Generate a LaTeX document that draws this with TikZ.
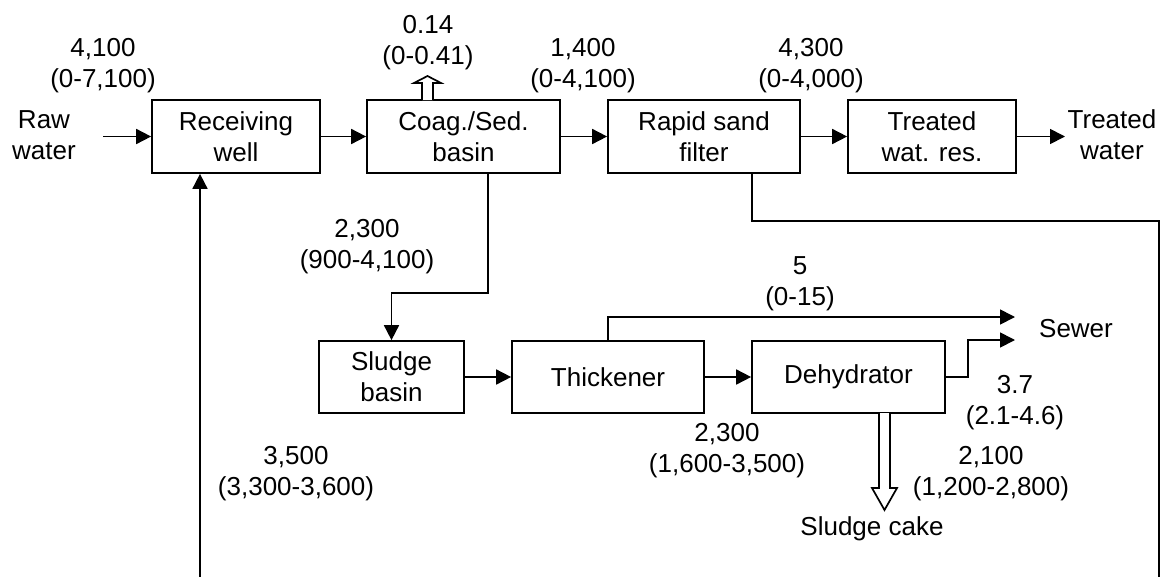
\documentclass[tikz,border=0pt]{standalone}
\usepackage{fontspec}
\setmainfont{Liberation Sans}
\usetikzlibrary{arrows.meta}
\newcommand\lblfont{\fontsize{26}{31}\selectfont}
\begin{document}
\begin{tikzpicture}[x=1pt,y=-1pt,
  box/.style={draw,line width=1.7pt,minimum height=73pt,inner sep=0pt,align=center,font=\lblfont},
  sbox/.style={box,minimum height=72pt},
  lbl/.style={inner sep=0pt,align=center,font=\lblfont},
  arr/.style={line width=1.7pt,-{Triangle[length=15pt,width=15pt]}},
  ln/.style={line width=1.7pt},
  hollow/.style={draw,fill=white,line width=1.7pt,line join=miter}]
\useasboundingbox[fill=white] (0,0) rectangle (1161,576);

% process boxes
\node[box,minimum width=168pt] (rw)  at (236,136.5)   {Receiving\\well};
\node[box,minimum width=193pt] (cs)  at (463.5,136.5) {Coag./Sed.\\basin};
\node[box,minimum width=192pt] (rsf) at (704,136.5)   {Rapid sand\\filter};
\node[box,minimum width=168pt] (twr) at (932,136.5)   {Treated\\wat. res.};
\node[sbox,minimum width=145pt] (sb) at (391.5,377)   {Sludge\\basin};
\node[sbox,minimum width=192pt] (th) at (608,377)     {Thickener};
\node[sbox,minimum width=193pt] (dh) at (848.5,377)   {Dehydrator};

% end-point texts
\node[lbl] (raw)   at (44,135)   {Raw\\water};
\node[lbl] (tw)    at (1112,135) {Treated\\water};
\node[lbl] (sewer) at (1076,329) {Sewer};
\node[lbl] (cake)  at (872,529)  {Sludge cake};

% flow labels
\node[lbl] (l1) at (103,65.5)  {4,100\\(0-7,100)};
\node[lbl] (l2) at (428,42.5)  {0.14\\(0-0.41)};
\node[lbl] (l3) at (583,65.5)  {1,400\\(0-4,100)};
\node[lbl] (l4) at (811,65.5)  {4,300\\(0-4,000)};
\node[lbl] (l5) at (367,246.5) {2,300\\(900-4,100)};
\node[lbl] (l6) at (800,283.5) {5\\(0-15)};
\node[lbl] (l7) at (1015,402.5) {3.7\\(2.1-4.6)};
\node[lbl] (l8) at (727,450.5) {2,300\\(1,600-3,500)};
\node[lbl] (l9) at (991,473.5) {2,100\\(1,200-2,800)};
\node[lbl] (l10) at (296,473.5) {3,500\\(3,300-3,600)};

% coordinates for free ends
\coordinate (rawin) at (103,136.5);
\coordinate (twout) at (1065,136.5);
\coordinate (csb)   at (488,173);
\coordinate (rsfb)  at (752,173);
\coordinate (tht)   at (608,341);
\coordinate (sew1)  at (1015,317);
\coordinate (sew2)  at (1015,340);
\coordinate (dhx)   at (968,377);
\coordinate (retR)  at (1159,221);
\coordinate (retRb) at (1159,578);
\coordinate (retLb) at (200,578);

% main line
\draw[arr] (rawin) -- (rw.west);
\draw[arr] (rw.east) -- (cs.west);
\draw[arr] (cs.east) -- (rsf.west);
\draw[arr] (rsf.east) -- (twr.west);
\draw[arr] (twr.east) -- (twout);

% sludge line
\draw[arr] (csb) -- (csb |- 0,293) -| (sb.north);
\draw[arr] (sb.east) -- (th.west);
\draw[arr] (th.east) -- (dh.west);
\draw[arr] (tht) |- (sew1);
\draw[arr] (dh.east) -- (dh.east -| dhx) |- (sew2);

% return line
\draw[ln] (rsfb) |- (retR) -- (retRb);
\draw[arr] (retLb) -- (rw.south -| retLb);

% hollow arrows
\draw[hollow] (422,100) -- (422,83) -- (414,83) -- (427.5,76) -- (441,83) -- (433,83) -- (433,100);
\draw[hollow] (879,413) -- (879,488) -- (872,488) -- (884.5,510) -- (897,488) -- (890,488) -- (890,413);
\end{tikzpicture}
\end{document}
